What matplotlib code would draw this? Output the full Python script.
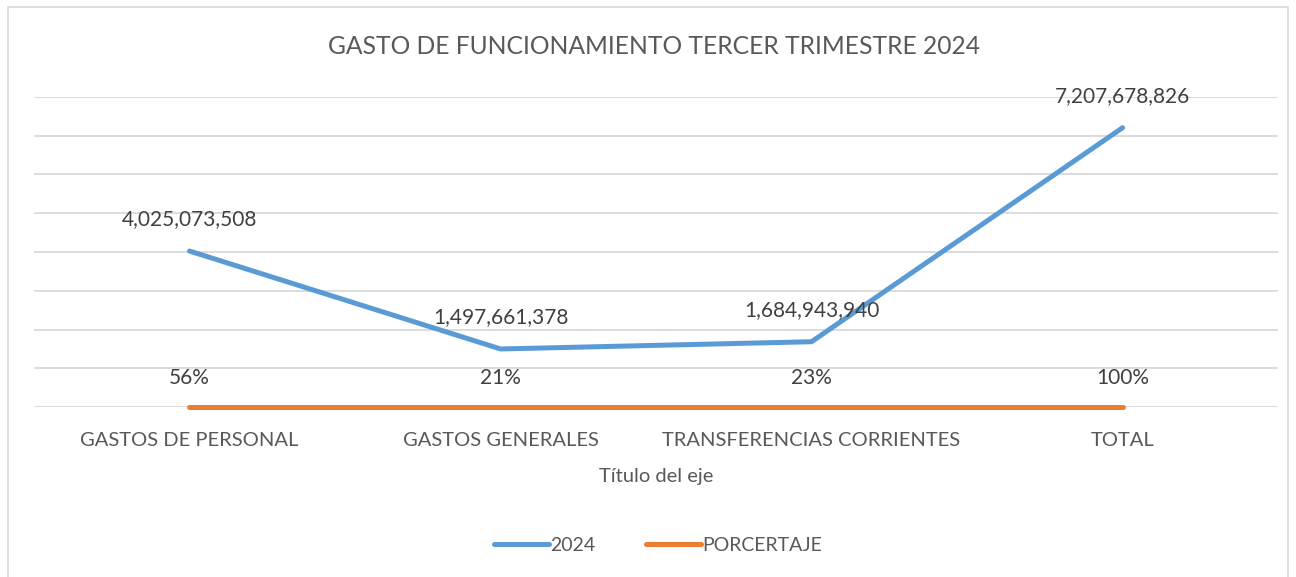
import matplotlib.pyplot as plt
from matplotlib.patches import Rectangle

categories = ['GASTOS DE PERSONAL', 'GASTOS GENERALES', 'TRANSFERENCIAS CORRIENTES', 'TOTAL']
gasto_2024 = [4025073508, 1497661378, 1684943940, 7207678826]
porcentaje = [0.56, 0.21, 0.23, 1.00]
pct_labels = ['56%', '21%', '23%', '100%']

blue = '#5B9BD5'
orange = '#ED7D31'
txt = '#595959'

plt.rcParams['font.family'] = ['Lato', 'DejaVu Sans']

fig = plt.figure(figsize=(12.96, 5.77), dpi=100)
# chart border
fig.patches.append(Rectangle((0.006, -0.01), 0.988, 0.998, transform=fig.transFigure,
                             fill=False, edgecolor='#D9D9D9', linewidth=1.2))

ax = fig.add_axes([0.0262, 0.2946, 0.96, 0.5373])
x = range(len(categories))

ax.plot(x, gasto_2024, color=blue, linewidth=3.6, solid_capstyle='round', label='2024', zorder=3)
ax.plot(x, porcentaje, color=orange, linewidth=3.6, solid_capstyle='round', label='PORCERTAJE',
        zorder=3, clip_on=False)

for i, v in enumerate(gasto_2024):
    ax.annotate(f'{v:,}', (i, v), xytext=(0, 23), textcoords='offset points',
                ha='center', va='center', fontsize=15, color='#404040')
for i, v in enumerate(porcentaje):
    ax.annotate(pct_labels[i], (i, v), xytext=(0, 21), textcoords='offset points',
                ha='center', va='center', fontsize=15, color='#404040')

ax.set_xlim(-0.5, 3.5)
ax.set_ylim(0, 8e9)
ax.set_yticks([i * 1e9 for i in range(9)])
ax.set_yticklabels([])
ax.tick_params(axis='y', length=0)
ax.grid(axis='y', color='#D9D9D9', linewidth=1.3)
ax.set_axisbelow(True)
for s in ax.spines.values():
    s.set_visible(False)

ax.set_xticks(list(x))
ax.set_xticklabels(categories, fontsize=14.5, color=txt)
ax.tick_params(axis='x', length=0, pad=18)
ax.set_xlabel('Título del eje', fontsize=14.5, color=txt, labelpad=14)

fig.text(0.505, 0.92, 'GASTO DE FUNCIONAMIENTO TERCER TRIMESTRE 2024',
         ha='center', va='center', fontsize=17.7, color=txt)

fig.legend(loc='center', bbox_to_anchor=(0.508, 0.055), ncol=2, frameon=False,
           fontsize=14, handlelength=2.8, columnspacing=2.6, handletextpad=0.1,
           labelcolor=txt)

plt.savefig('out.png', dpi=100)
